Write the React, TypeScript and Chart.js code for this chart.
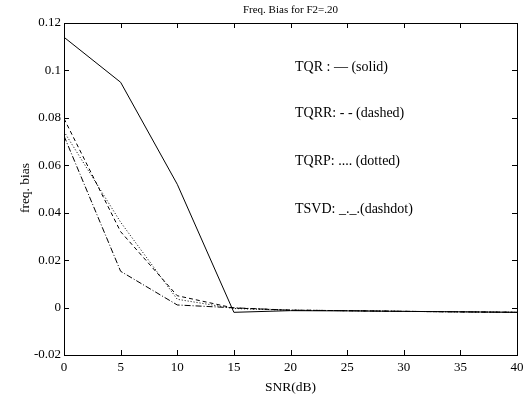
import React, { useEffect, useRef } from "react";
import { Chart, registerables } from "chart.js";

Chart.register(...registerables);

const snr = [0, 5, 10, 15, 20, 25, 30, 35, 40];
const tqr = [0.114, 0.095, 0.052, -0.002, -0.0013, -0.0014, -0.0016, -0.0018, -0.002];
const tqrr = [0.0797, 0.032, 0.005, -0.0002, -0.0011, -0.0013, -0.0016, -0.0018, -0.002];
const tqrp = [0.0742, 0.036, 0.0035, -0.0004, -0.0011, -0.0013, -0.0016, -0.0018, -0.002];
const tsvd = [0.0724, 0.0153, 0.0011, -0.0001, -0.0011, -0.0013, -0.0016, -0.0018, -0.002];

const titleText = "Freq. Bias for F2=.20";
const xTitle = "SNR(dB)";
const yTitle = "freq. bias";
const noteLabels = ["TQR : \u2014 (solid)", "TQRR: - - (dashed)", "TQRP: .... (dotted)", "TSVD: _._.(dashdot)"];
const noteY = [0.1013, 0.0818, 0.0618, 0.0414];
const noteX = 20.4;

const FONT = "'Liberation Serif', 'Times New Roman', serif";

const framePlugin = {
  id: "frame",
  afterDraw(chart: any) {
    const { ctx, chartArea: a, scales } = chart;
    const xs = scales.x;
    const ys = scales.y;
    ctx.save();
    ctx.strokeStyle = "#000";
    ctx.lineWidth = 1;
    ctx.strokeRect(a.left + 0.5, a.top + 0.5, a.right - a.left, a.bottom - a.top);
    ctx.beginPath();
    xs.ticks.forEach((t: any) => {
      const px = Math.round(xs.getPixelForValue(t.value)) + 0.5;
      ctx.moveTo(px, a.bottom);
      ctx.lineTo(px, a.bottom - 5);
      ctx.moveTo(px, a.top);
      ctx.lineTo(px, a.top + 5);
    });
    ys.ticks.forEach((t: any) => {
      const py = Math.round(ys.getPixelForValue(t.value)) + 0.5;
      ctx.moveTo(a.left, py);
      ctx.lineTo(a.left + 5, py);
      ctx.moveTo(a.right, py);
      ctx.lineTo(a.right - 5, py);
    });
    ctx.stroke();

    ctx.fillStyle = "#000";
    ctx.textBaseline = "middle";
    ctx.textAlign = "center";
    ctx.font = `11px ${FONT}`;
    ctx.fillText(titleText, (a.left + a.right) / 2, 10);
    ctx.font = `13.5px ${FONT}`;
    ctx.fillText(xTitle, (a.left + a.right) / 2, 387);
    ctx.save();
    ctx.translate(25, 188);
    ctx.rotate(-Math.PI / 2);
    ctx.fillText(yTitle, 0, 0);
    ctx.restore();

    ctx.textAlign = "left";
    ctx.font = `14px ${FONT}`;
    noteLabels.forEach((s, i) => {
      ctx.fillText(s, xs.getPixelForValue(noteX), ys.getPixelForValue(noteY[i]));
    });
    ctx.restore();
  },
};

export default function App() {
  const ref = useRef<HTMLCanvasElement>(null);
  useEffect(() => {
    if (!ref.current) return;
    const mk = (label: string, data: number[], dash: number[]) => ({
      label,
      data: snr.map((x, i) => ({ x, y: data[i] })),
      borderColor: "#000",
      borderWidth: 1,
      borderDash: dash,
      pointRadius: 0,
      fill: false,
      tension: 0,
    });
    const chart = new Chart(ref.current, {
      type: "line",
      data: {
        datasets: [
          mk("TQR", tqr, []),
          mk("TQRR", tqrr, [4, 3]),
          mk("TQRP", tqrp, [1, 2]),
          mk("TSVD", tsvd, [6, 2, 1, 2]),
        ],
      },
      options: {
        responsive: false,
        animation: false,
        layout: { padding: { top: 23, right: 8, left: 0, bottom: 0 } },
        plugins: { legend: { display: false }, tooltip: { enabled: false }, title: { display: false } },
        scales: {
          x: {
            type: "linear",
            min: 0,
            max: 40,
            grid: { display: false, drawTicks: false },
            border: { display: false },
            ticks: {
              stepSize: 5,
              color: "#000",
              padding: 5,
              maxRotation: 0,
              font: { family: FONT, size: 13 },
            },
            afterFit: (s: any) => { s.height = 50; s.paddingLeft = 0; s.paddingRight = 0; },
          },
          y: {
            type: "linear",
            min: -0.02,
            max: 0.12,
            grid: { display: false, drawTicks: false },
            border: { display: false },
            ticks: {
              stepSize: 0.02,
              color: "#000",
              padding: 3,
              font: { family: FONT, size: 13 },
              callback: (v: any) => String(Math.round(Number(v) * 100) / 100),
            },
            afterFit: (s: any) => { s.width = 64; s.paddingTop = 0; s.paddingBottom = 0; },
          },
        },
      },
      plugins: [framePlugin],
    });
    return () => chart.destroy();
  }, []);
  return (
    <div style={{ position: "absolute", left: 0, top: 0, width: 525, height: 405, background: "#fff" }}>
      <canvas ref={ref} width={525} height={405} />
    </div>
  );
}
